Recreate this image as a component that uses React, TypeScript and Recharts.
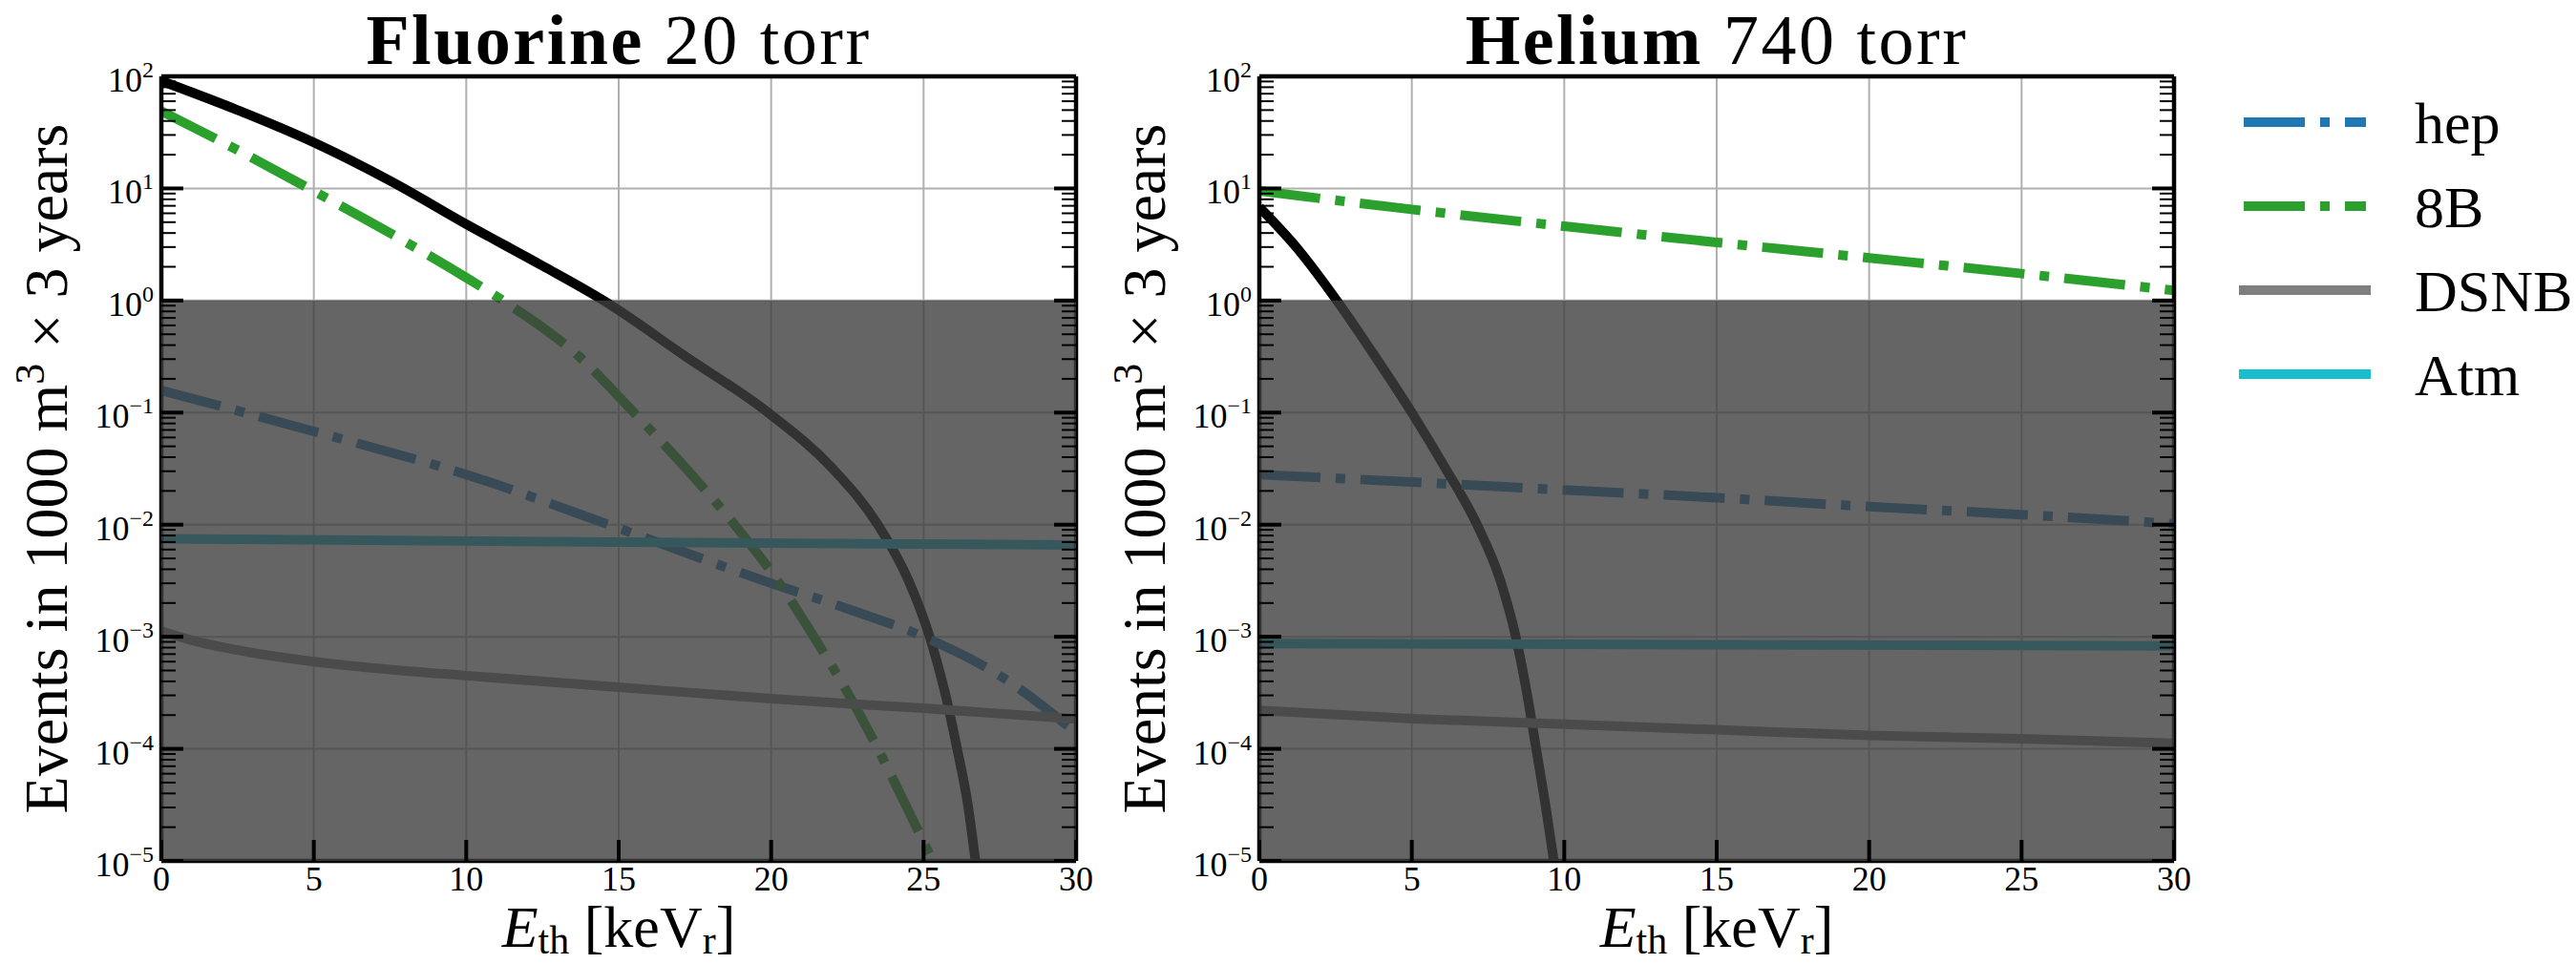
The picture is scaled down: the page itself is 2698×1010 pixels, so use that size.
import React from 'react';
import { LineChart, Line, XAxis, YAxis, ReferenceLine, ReferenceArea } from 'recharts';

const FONT = '"Liberation Serif", "DejaVu Serif", serif';

// ---- Fluorine, 20 torr ----
const fluorineTotalE = [0, 2.5, 5, 7.5, 10, 12.5, 14.5, 17.2, 19.9, 22, 23.5, 24.5, 25.2, 25.7, 26.1, 26.45, 26.7];
const fluorineTotalN = [91, 50, 25.7, 11.7, 4.8, 2.04, 1.0, 0.316, 0.1, 0.032, 0.01, 0.0032, 0.001, 0.00032, 0.0001, 0.000032, 0.00001];

const fluorine8BE = [0, 2.5, 4.84, 7.5, 10, 11.2, 13.7, 15.5, 17.2, 18.8, 20.2, 21.4, 22.5, 23.5, 24.4, 25.3];
const fluorine8BN = [49, 22, 10, 4.0, 1.6, 1.0, 0.316, 0.1, 0.032, 0.01, 0.0032, 0.001, 0.00032, 0.0001, 0.000032, 0.00001];

const fluorineHepE = [0, 5, 10, 15, 20, 22.5, 25, 27.5, 30];
const fluorineHepN = [0.158, 0.068, 0.028, 0.0093, 0.003, 0.00178, 0.001, 0.00045, 0.00014];

const fluorineAtmE = [0, 15, 30];
const fluorineAtmN = [0.0075, 0.007, 0.0066];

const fluorineDsnbE = [0, 1, 2.5, 5, 7.5, 10, 15, 20, 25, 30];
const fluorineDsnbN = [0.00112, 0.00093, 0.00076, 0.0006, 0.00051, 0.00045, 0.000355, 0.00028, 0.00023, 0.000185];

// ---- Helium, 740 torr ----
const heliumTotalE = [0, 1.3, 2.54, 3.8, 5.0, 6.1, 7.14, 7.9, 8.41, 8.77, 9.08, 9.38, 9.66];
const heliumTotalN = [6.8, 2.8, 1.0, 0.316, 0.1, 0.032, 0.01, 0.0032, 0.001, 0.00032, 0.0001, 0.000032, 0.00001];

const helium8BE = [0, 5, 10, 15, 20, 25, 30];
const helium8BN = [9.5, 6.5, 4.6, 3.3, 2.4, 1.74, 1.23];

const heliumHepE = [0, 5, 10, 15, 20, 25, 30];
const heliumHepN = [0.028, 0.024, 0.0204, 0.0174, 0.0145, 0.0123, 0.0102];

const heliumAtmE = [0, 15, 30];
const heliumAtmN = [0.00087, 0.00085, 0.00083];

const heliumDsnbE = [0, 5, 10, 15, 20, 25, 30];
const heliumDsnbN = [0.00022, 0.000186, 0.000166, 0.000148, 0.000132, 0.000123, 0.000112];

// ---- axes ----
const xTicks = [0, 5, 10, 15, 20, 25, 30];
const xGrid = [5, 10, 15, 20, 25];
const decades = [1e-5, 1e-4, 1e-3, 1e-2, 1e-1, 1, 10, 100];
const yGrid = [1e-4, 1e-3, 1e-2, 1e-1, 1, 10];
const mantissas = [1, 2, 3, 4, 5, 6, 7, 8, 9];
const yTicks = decades.flatMap((d, i) => (i === decades.length - 1 ? [d] : mantissas.map((m) => m * d)));

const DASHDOT = '64 16 10 16';

const legendItems = [
  { name: 'hep', color: '#1f77b4', dash: DASHDOT },
  { name: '8B', color: '#2ca02c', dash: DASHDOT },
  { name: 'DSNB', color: '#7f7f7f', dash: undefined },
  { name: 'Atm', color: '#17becf', dash: undefined },
];

const rows = (e: number[], n: number[]) => e.map((x, i) => ({ e: x, n: n[i] }));

type Series = { key: string; rows: { e: number; n: number }[]; color: string; dash?: string };

const fluorineSeries: Series[] = [
  { key: 'total', rows: rows(fluorineTotalE, fluorineTotalN), color: '#000000' },
  { key: 'hep', rows: rows(fluorineHepE, fluorineHepN), color: '#1f77b4', dash: DASHDOT },
  { key: '8B', rows: rows(fluorine8BE, fluorine8BN), color: '#2ca02c', dash: DASHDOT },
  { key: 'DSNB', rows: rows(fluorineDsnbE, fluorineDsnbN), color: '#7f7f7f' },
  { key: 'Atm', rows: rows(fluorineAtmE, fluorineAtmN), color: '#17becf' },
];

const heliumSeries: Series[] = [
  { key: 'total', rows: rows(heliumTotalE, heliumTotalN), color: '#000000' },
  { key: 'hep', rows: rows(heliumHepE, heliumHepN), color: '#1f77b4', dash: DASHDOT },
  { key: '8B', rows: rows(helium8BE, helium8BN), color: '#2ca02c', dash: DASHDOT },
  { key: 'DSNB', rows: rows(heliumDsnbE, heliumDsnbN), color: '#7f7f7f' },
  { key: 'Atm', rows: rows(heliumAtmE, heliumAtmN), color: '#17becf' },
];

const isDecade = (v: number) => {
  const exp = Math.floor(Math.log10(v) + 1e-9);
  return { exp, major: Math.abs(v / Math.pow(10, exp) - 1) < 1e-6 };
};

const expText = (exp: number) => (exp < 0 ? '\u2212' + Math.abs(exp) : String(exp));

const LeftTick = (props: any) => {
  const { x, y, payload } = props;
  const { exp, major } = isDecade(payload.value);
  return (
    <g>
      <line x1={x} x2={x + (major ? 23 : 15)} y1={y} y2={y} stroke="#000" strokeWidth={major ? 4 : 2} />
      {major && (
        <text x={x - 8} y={y + 16} textAnchor="end" fontFamily={FONT} fontSize={36} fill="#000">
          10
          <tspan dy={-15} fontSize={24}>
            {expText(exp)}
          </tspan>
        </text>
      )}
    </g>
  );
};

const RightTick = (props: any) => {
  const { x, y, payload } = props;
  const { major } = isDecade(payload.value);
  return <line x1={x} x2={x - (major ? 23 : 15)} y1={y} y2={y} stroke="#000" strokeWidth={major ? 4 : 2} />;
};

const BottomTick = (props: any) => {
  const { x, y, payload } = props;
  return (
    <g>
      <line x1={x} x2={x} y1={y} y2={y - 22} stroke="#000" strokeWidth={4} />
      <text x={x} y={y + 31} textAnchor="middle" fontFamily={FONT} fontSize={36} fill="#000">
        {payload.value}
      </text>
    </g>
  );
};

const TopTick = (props: any) => {
  const { x, y } = props;
  return <line x1={x} x2={x} y1={y} y2={y + 22} stroke="#000" strokeWidth={4} />;
};

const spine = { stroke: '#000', strokeWidth: 4.5 };

// Axis bands are given real sizes; the margins are trimmed so the plot box
// still spans x 169..1127 and y 80..902 inside each 1150x1010 panel.
function Panel({ series }: { series: Series[] }) {
  return (
    <LineChart width={1150} height={1010} margin={{ top: 60, right: 3, bottom: 78, left: 109 }}>
      {xGrid.map((g) => (
        <ReferenceLine key={'gx' + g} x={g} stroke="#b0b0b0" strokeWidth={2} zIndex={-100} />
      ))}
      {yGrid.map((g) => (
        <ReferenceLine key={'gy' + g} y={g} stroke="#b0b0b0" strokeWidth={2} zIndex={-100} />
      ))}
      {series.map((s) => (
        <Line
          key={s.key}
          data={s.rows}
          dataKey="n"
          type="monotone"
          stroke={s.color}
          strokeWidth={10}
          strokeDasharray={s.dash}
          dot={false}
          activeDot={false}
          isAnimationActive={false}
        />
      ))}
      <XAxis
        dataKey="e"
        type="number"
        domain={[0, 30]}
        ticks={xTicks}
        interval={0}
        allowDataOverflow
        height={30}
        tickSize={0}
        tickMargin={0}
        tickLine={false}
        axisLine={spine}
        tick={(p: any) => <BottomTick {...p} />}
      />
      <XAxis
        xAxisId="top"
        orientation="top"
        type="number"
        domain={[0, 30]}
        ticks={xTicks}
        interval={0}
        allowDataOverflow
        height={20}
        tickSize={0}
        tickMargin={0}
        tickLine={false}
        axisLine={spine}
        tick={(p: any) => <TopTick {...p} />}
      />
      <YAxis
        type="number"
        scale="log"
        domain={[1e-5, 100]}
        ticks={yTicks}
        interval={0}
        allowDataOverflow
        width={60}
        tickSize={0}
        tickMargin={0}
        tickLine={false}
        axisLine={spine}
        tick={(p: any) => <LeftTick {...p} />}
      />
      <YAxis
        yAxisId="right"
        orientation="right"
        type="number"
        scale="log"
        domain={[1e-5, 100]}
        ticks={yTicks}
        interval={0}
        allowDataOverflow
        width={20}
        tickSize={0}
        tickMargin={0}
        tickLine={false}
        axisLine={spine}
        tick={(p: any) => <RightTick {...p} />}
      />
      <ReferenceArea x1={0} x2={30} y1={1e-5} y2={1} fill="#3e3e3e" fillOpacity={0.8} stroke="none" zIndex={1500} />
    </LineChart>
  );
}

function AxisTexts({ shift, element, pressure }: { shift: number; element: string; pressure: string }) {
  const cx = 648 + shift;
  const ly = 491;
  const lx = 70 + shift;
  return (
    <g fontFamily={FONT} fill="#000">
      <text x={cx} y={67} textAnchor="middle" fontSize={74} letterSpacing={2.5}>
        <tspan fontWeight="bold">{element}</tspan>
        <tspan>{' ' + pressure}</tspan>
      </text>
      <text x={cx} y={992} textAnchor="middle" fontSize={62}>
        <tspan fontStyle="italic">E</tspan>
        <tspan fontSize={42} dy={7}>
          th
        </tspan>
        <tspan dy={-7}>{' [keV'}</tspan>
        <tspan fontSize={42} dy={7}>
          r
        </tspan>
        <tspan dy={-7}>]</tspan>
      </text>
      <text x={lx} y={ly} textAnchor="middle" fontSize={64} transform={`rotate(-90 ${lx} ${ly})`}>
        <tspan>Events in 1000 m</tspan>
        <tspan fontSize={44} dy={-24}>
          3
        </tspan>
        <tspan dy={24}>{' \u00d7 3 years'}</tspan>
      </text>
    </g>
  );
}

export default function App() {
  return (
    <div style={{ position: 'absolute', left: 0, top: 0, width: 2698, height: 1010, background: '#fff' }}>
      <div style={{ position: 'absolute', left: 0, top: 0 }}>
        <Panel series={fluorineSeries} />
      </div>
      <div style={{ position: 'absolute', left: 1150, top: 0 }}>
        <Panel series={heliumSeries} />
      </div>
      <svg width={2698} height={1010} style={{ position: 'absolute', left: 0, top: 0, pointerEvents: 'none' }}>
        <AxisTexts shift={0} element="Fluorine" pressure="20 torr" />
        <AxisTexts shift={1150} element="Helium" pressure="740 torr" />
        {legendItems.map((it, i) => {
          const y = 128 + i * 88;
          return (
            <g key={it.name}>
              <line
                x1={2350}
                x2={2478}
                y1={y}
                y2={y}
                stroke={it.color}
                strokeWidth={10}
                strokeDasharray={it.dash}
                strokeLinecap={it.dash ? 'butt' : 'square'}
              />
              <text x={2529} y={y + 22} fontFamily={FONT} fontSize={62} fill="#000">
                {it.name}
              </text>
            </g>
          );
        })}
      </svg>
    </div>
  );
}
